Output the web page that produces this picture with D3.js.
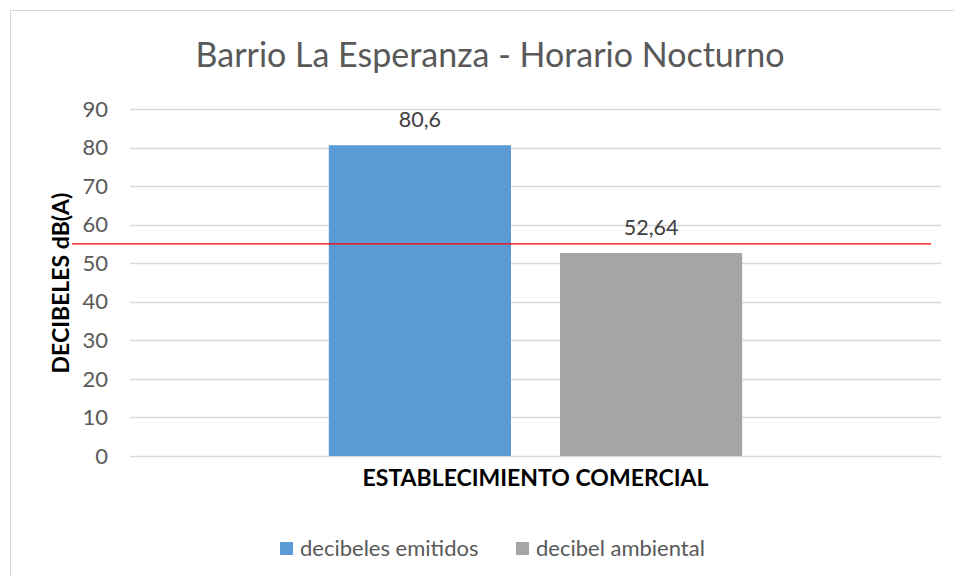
<!DOCTYPE html>
<html>
<head>
<meta charset="utf-8">
<script src="https://cdn.jsdelivr.net/npm/d3@7"></script>
<style>
  body { margin: 0; background: #fff; }
  text { font-family: Lato, "Open Sans", sans-serif; }
</style>
</head>
<body>
<div id="chart"></div>
<script>
// donnees du graphique
const categorias = ["ESTABLECIMIENTO COMERCIAL"];
const series = ["decibeles emitidos", "decibel ambiental"];
const valores = [80.6, 52.64];
const colores = ["#5b9bd5", "#a5a5a5"];
const limite = 55;
const ticks = [0, 10, 20, 30, 40, 50, 60, 70, 80, 90];

const width = 954, height = 577;
const margin = { left: 130, right: 13, top: 109, bottom: 121 };

const svg = d3.select("#chart").append("svg")
    .attr("width", width)
    .attr("height", height);

// cadre
svg.append("rect")
    .attr("x", 10.5).attr("y", 10.5)
    .attr("width", 960).attr("height", 600)
    .attr("fill", "white")
    .attr("stroke", "#d9d9d9");

const y = d3.scaleLinear().domain([0, 90]).range([height - margin.bottom, margin.top]);
const x0 = d3.scaleBand().domain(categorias).range([margin.left, width - margin.right]);
const x1 = d3.scaleBand().domain(series).range([0, x0.bandwidth()]).paddingInner(0.212).paddingOuter(0.86);

// grille
svg.append("g")
    .selectAll("line")
    .data(ticks)
    .enter().append("line")
    .attr("x1", margin.left).attr("x2", width - margin.right)
    .attr("y1", d => Math.round(y(d)) + 0.5).attr("y2", d => Math.round(y(d)) + 0.5)
    .attr("stroke", "#d9d9d9").attr("stroke-width", 1.5);

// etiquettes axe y
svg.append("g")
    .selectAll("text")
    .data(ticks)
    .enter().append("text")
    .attr("x", 108)
    .attr("y", d => y(d))
    .attr("dy", "0.35em")
    .attr("text-anchor", "end")
    .style("font-size", "22px")
    .attr("fill", "#595959")
    .text(d => d);

// barres
const g = svg.append("g").attr("transform", "translate(" + x0(categorias[0]) + ",0)");
g.selectAll("rect")
    .data(valores)
    .enter().append("rect")
    .attr("x", (d, i) => x1(series[i]))
    .attr("y", d => y(d))
    .attr("width", x1.bandwidth())
    .attr("height", d => y(0) - y(d))
    .attr("fill", (d, i) => colores[i]);

g.selectAll("text")
    .data(valores)
    .enter().append("text")
    .attr("x", (d, i) => x1(series[i]) + x1.bandwidth() / 2)
    .attr("y", d => y(d) - 18)
    .attr("text-anchor", "middle")
    .style("font-size", "21.5px")
    .attr("fill", "#404040")
    .text(d => String(d).replace(".", ","));

// ligne limite
svg.append("line")
    .attr("x1", 72).attr("x2", 931)
    .attr("y1", y(limite)).attr("y2", y(limite))
    .attr("stroke", "#ff0000").attr("stroke-width", 1.3);

// titre
svg.append("text")
    .attr("x", 490).attr("y", 67)
    .attr("text-anchor", "middle")
    .style("font-size", "34px")
    .attr("fill", "#595959")
    .text("Barrio La Esperanza - Horario Nocturno");

// titre axe y
svg.append("text")
    .attr("transform", "translate(69,283) rotate(-90)")
    .attr("text-anchor", "middle")
    .style("font-size", "23px")
    .style("font-weight", "bold")
    .attr("fill", "#000")
    .text("DECIBELES dB(A)");

// categorie
svg.append("text")
    .attr("x", x0(categorias[0]) + x0.bandwidth() / 2).attr("y", 486)
    .attr("text-anchor", "middle")
    .style("font-size", "23px")
    .style("font-weight", "bold")
    .attr("fill", "#000")
    .text(categorias[0]);

// legende
const legX = [280, 516];
const leg = svg.append("g")
    .selectAll("g")
    .data(series)
    .enter().append("g")
    .attr("transform", (d, i) => "translate(" + legX[i] + ",542)");
leg.append("rect")
    .attr("width", 13).attr("height", 13)
    .attr("fill", (d, i) => colores[i]);
leg.append("text")
    .attr("x", 20).attr("y", 6.5)
    .attr("dy", "0.35em")
    .style("font-size", "22px")
    .attr("fill", "#595959")
    .text(d => d);
</script>
</body>
</html>
